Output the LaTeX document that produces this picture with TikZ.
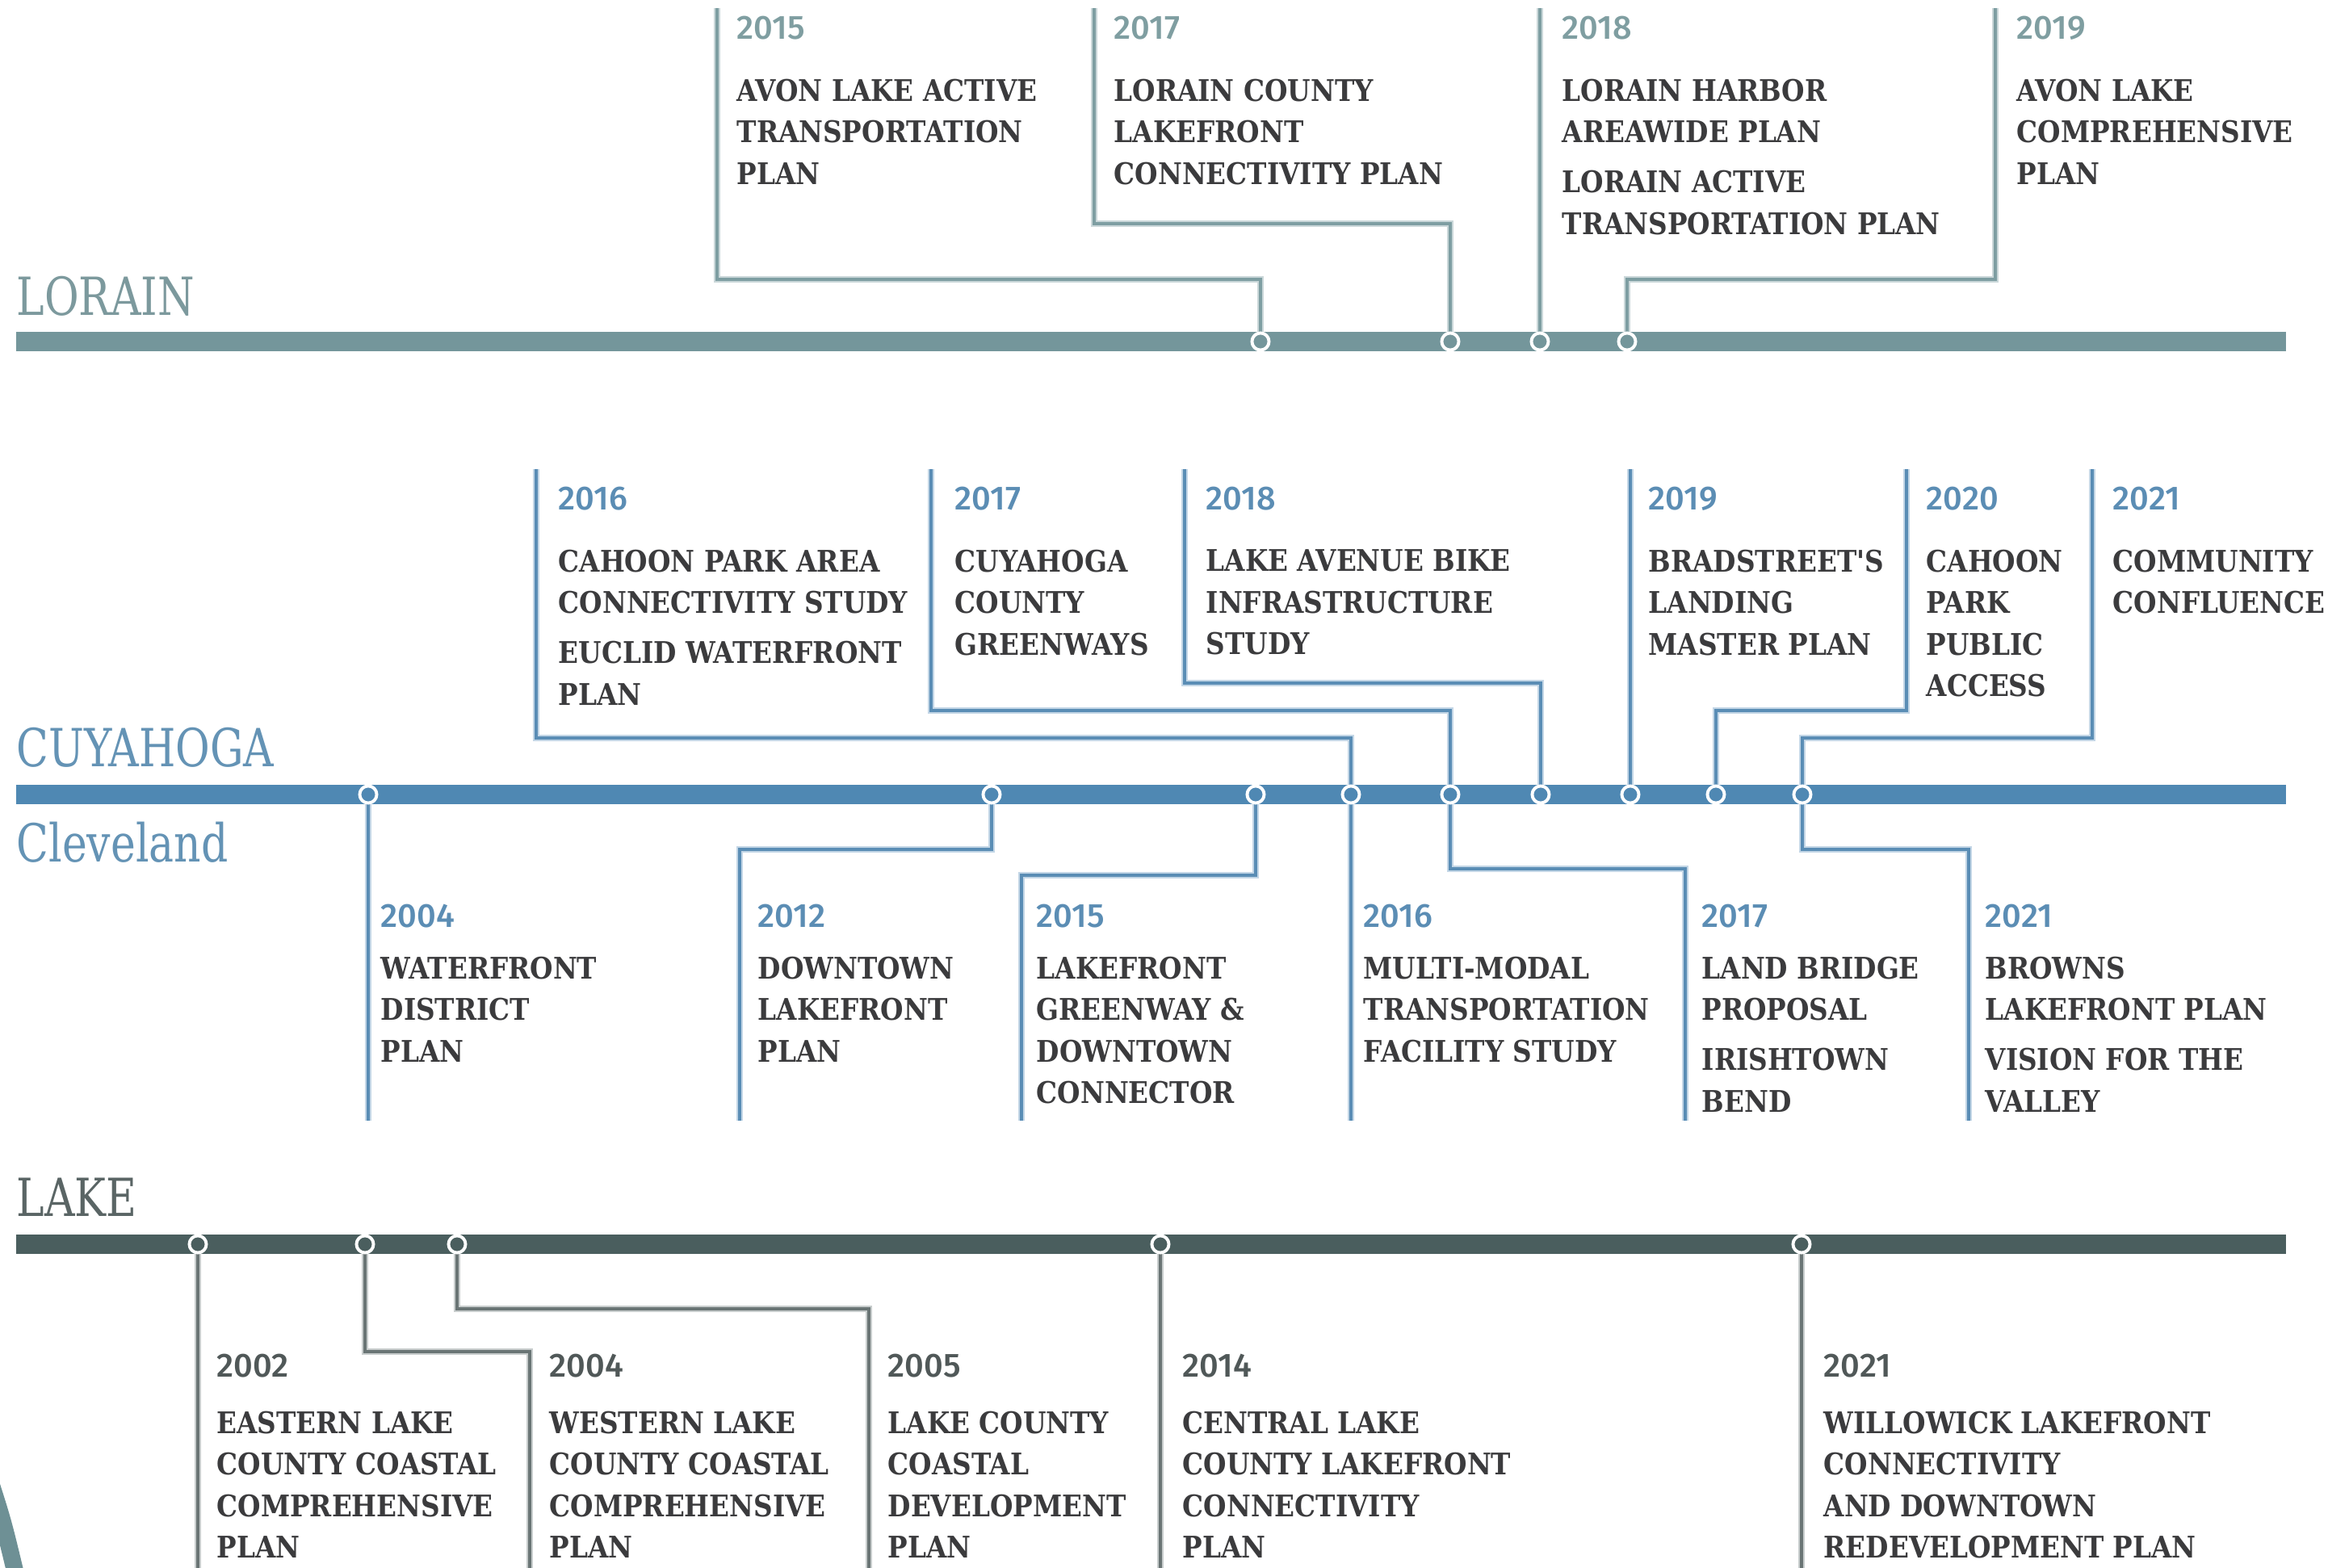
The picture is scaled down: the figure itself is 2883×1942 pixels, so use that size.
\documentclass[tikz,border=0pt]{standalone}
\usepackage{fontspec}
\newfontfamily\bodyfont{DejaVu Serif}[FakeStretch=0.885]
\newfontfamily\headfont{DejaVu Serif}[FakeStretch=0.8]
\newfontfamily\yearfont{Fira Sans}[UprightFont={* Medium}]
\definecolor{lorBar}{HTML}{74969B}
\definecolor{lorLine}{HTML}{7E9EA2}
\definecolor{lorHalo}{HTML}{CAD7D9}
\definecolor{lorYear}{HTML}{7F9EA1}
\definecolor{lorHead}{HTML}{7C999D}
\definecolor{cuyBar}{HTML}{4F88B3}
\definecolor{cuyLine}{HTML}{5A8DB5}
\definecolor{cuyHalo}{HTML}{C3D6E6}
\definecolor{cuyYear}{HTML}{5B8DB4}
\definecolor{cuyHead}{HTML}{6493B5}
\definecolor{lakBar}{HTML}{4A5E5E}
\definecolor{lakLine}{HTML}{6A7575}
\definecolor{lakHalo}{HTML}{C8CDCD}
\definecolor{lakYear}{HTML}{505858}
\definecolor{lakHead}{HTML}{5A6565}
\definecolor{bodyTxt}{HTML}{3B3B3D}
\definecolor{arcCol}{HTML}{6E9095}
\tikzset{
  bar/.style={line width=6.8pt},
  dot/.style={circle, draw=white, fill=#1, line width=1.1pt, minimum size=6pt, inner sep=0pt},
  conn/.style={line width=0.95pt, draw=#1Line, preaction={draw=#1Halo, line width=2.2pt}},
  body/.style={anchor=north west, inner sep=0pt, align=left, text=bodyTxt,
    font=\bodyfont\bfseries\fontsize{10.5}{14.65}\selectfont},
  year/.style={anchor=north west, inner sep=0pt, text=#1,
    font=\yearfont\fontsize{11.8}{13}\selectfont},
  head/.style={anchor=north west, inner sep=0pt, text=#1,
    font=\headfont\fontsize{18.5}{20}\selectfont},
}
\begin{document}
\begin{tikzpicture}[x=0.01cm, y=-0.01cm]
\useasboundingbox (0,0) rectangle (2883,1942);
\fill[white] (0,0) rectangle (2883,1942);

% decorative arc bottom-left
\draw[arcCol, line width=6pt] (-12,1835) .. controls (4,1885) .. (22,1960);

% ---------------- LORAIN ----------------
\node[head=lorHead] (lorain) at (20,342) {LORAIN};
\coordinate (Ln1) at (1561,423);
\coordinate (Ln2) at (1796,423);
\coordinate (Ln3) at (1907,423);
\coordinate (Ln4) at (2015,423);
\coordinate (l15e) at (888,10);  \coordinate (l15k) at (1561,346);
\coordinate (l17e) at (1355,10); \coordinate (l17k) at (1796,277);
\coordinate (l18e) at (1907,10);
\coordinate (l19e) at (2471,10); \coordinate (l19k) at (2015,346);
\draw[conn=lor] (l15e) |- (l15k) -- (Ln1);
\draw[conn=lor] (l17e) |- (l17k) -- (Ln2);
\draw[conn=lor] (l18e) -- (Ln3);
\draw[conn=lor] (l19e) |- (l19k) -- (Ln4);
\draw[bar, lorBar] (20,423) -- (2831,423);
\foreach \n in {Ln1,Ln2,Ln3,Ln4} \node[dot=lorBar] at (\n) {};

\node[year=lorYear] (ly15) at (912,19) {2015};
\node[body] (lt15) at (912,97) {AVON LAKE ACTIVE\\TRANSPORTATION\\PLAN};
\node[year=lorYear] (ly17) at (1379,19) {2017};
\node[body] (lt17) at (1379,97) {LORAIN COUNTY\\LAKEFRONT\\CONNECTIVITY PLAN};
\node[year=lorYear] (ly18) at (1934,19) {2018};
\node[body] (lt18) at (1934,97) {LORAIN HARBOR\\AREAWIDE PLAN\\[3pt]LORAIN ACTIVE\\TRANSPORTATION PLAN};
\node[year=lorYear] (ly19) at (2497,19) {2019};
\node[body] (lt19) at (2497,97) {AVON LAKE\\COMPREHENSIVE\\PLAN};

% ---------------- CUYAHOGA ----------------
\node[head=cuyHead] (cuy) at (20,901) {CUYAHOGA};
\node[head=cuyHead] (cle) at (20,1017) {Cleveland};
\coordinate (Cn1) at (456,984);
\coordinate (Cn2) at (1228,984);
\coordinate (Cn3) at (1555,984);
\coordinate (Cn4) at (1673,984);
\coordinate (Cn5) at (1796,984);
\coordinate (Cn6) at (1908,984);
\coordinate (Cn7) at (2019,984);
\coordinate (Cn8) at (2125,984);
\coordinate (Cn9) at (2232,984);
% upper
\coordinate (cu16e) at (664,581);  \coordinate (cu16k) at (1673,914);
\coordinate (cu17e) at (1153,581); \coordinate (cu17k) at (1796,880);
\coordinate (cu18e) at (1467,581); \coordinate (cu18k) at (1908,846);
\coordinate (cu19e) at (2019,581);
\coordinate (cu20e) at (2361,581); \coordinate (cu20k) at (2125,880);
\coordinate (cu21e) at (2591,581); \coordinate (cu21k) at (2232,914);
\draw[conn=cuy] (cu16e) |- (cu16k) -- (Cn4);
\draw[conn=cuy] (cu17e) |- (cu17k) -- (Cn5);
\draw[conn=cuy] (cu18e) |- (cu18k) -- (Cn6);
\draw[conn=cuy] (cu19e) -- (Cn7);
\draw[conn=cuy] (cu20e) |- (cu20k) -- (Cn8);
\draw[conn=cuy] (cu21e) |- (cu21k) -- (Cn9);
% lower
\coordinate (cl04e) at (456,1388);
\coordinate (cl12e) at (916,1388);  \coordinate (cl12k) at (1228,1052);
\coordinate (cl15e) at (1265,1388); \coordinate (cl15k) at (1555,1084);
\coordinate (cl16e) at (1673,1388);
\coordinate (cl17e) at (2087,1388); \coordinate (cl17k) at (1796,1076);
\coordinate (cl21e) at (2438,1388); \coordinate (cl21k) at (2232,1052);
\draw[conn=cuy] (cl04e) -- (Cn1);
\draw[conn=cuy] (cl12e) |- (cl12k) -- (Cn2);
\draw[conn=cuy] (cl15e) |- (cl15k) -- (Cn3);
\draw[conn=cuy] (cl16e) -- (Cn4);
\draw[conn=cuy] (cl17e) |- (cl17k) -- (Cn5);
\draw[conn=cuy] (cl21e) |- (cl21k) -- (Cn9);
\draw[bar, cuyBar] (20,984) -- (2831,984);
\foreach \n in {Cn1,Cn2,Cn3,Cn4,Cn5,Cn6,Cn7,Cn8,Cn9} \node[dot=cuyBar] at (\n) {};

\node[year=cuyYear] (cy16) at (691,602) {2016};
\node[body] (ct16) at (691,680) {CAHOON PARK AREA\\CONNECTIVITY STUDY\\[3pt]EUCLID WATERFRONT\\PLAN};
\node[year=cuyYear] (cy17) at (1182,602) {2017};
\node[body] (ct17) at (1182,680) {CUYAHOGA\\COUNTY\\GREENWAYS};
\node[year=cuyYear] (cy18) at (1493,602) {2018};
\node[body] (ct18) at (1493,680) {LAKE AVENUE BIKE\\INFRASTRUCTURE\\STUDY};
\node[year=cuyYear] (cy19) at (2041,602) {2019};
\node[body] (ct19) at (2041,680) {BRADSTREET'S\\LANDING\\MASTER PLAN};
\node[year=cuyYear] (cy20) at (2385,602) {2020};
\node[body] (ct20) at (2385,680) {CAHOON\\PARK\\PUBLIC\\ACCESS};
\node[year=cuyYear] (cy21) at (2616,602) {2021};
\node[body] (ct21) at (2616,680) {COMMUNITY\\CONFLUENCE};

\node[year=cuyYear] (dy04) at (471,1119) {2004};
\node[body] (dt04) at (471,1184) {WATERFRONT\\DISTRICT\\PLAN};
\node[year=cuyYear] (dy12) at (938,1119) {2012};
\node[body] (dt12) at (938,1184) {DOWNTOWN\\LAKEFRONT\\PLAN};
\node[year=cuyYear] (dy15) at (1283,1119) {2015};
\node[body] (dt15) at (1283,1184) {LAKEFRONT\\GREENWAY \&\\DOWNTOWN\\CONNECTOR};
\node[year=cuyYear] (dy16) at (1688,1119) {2016};
\node[body] (dt16) at (1688,1184) {MULTI-MODAL\\TRANSPORTATION\\FACILITY STUDY};
\node[year=cuyYear] (dy17) at (2107,1119) {2017};
\node[body] (dt17) at (2107,1184) {LAND BRIDGE\\PROPOSAL\\[3pt]IRISHTOWN\\BEND};
\node[year=cuyYear] (dy21) at (2458,1119) {2021};
\node[body] (dt21) at (2458,1184) {BROWNS\\LAKEFRONT PLAN\\[3pt]VISION FOR THE\\VALLEY};

% ---------------- LAKE ----------------
\node[head=lakHead] (lake) at (20,1458) {LAKE};
\coordinate (Kn1) at (245,1541);
\coordinate (Kn2) at (452,1541);
\coordinate (Kn3) at (566,1541);
\coordinate (Kn4) at (1437,1541);
\coordinate (Kn5) at (2231,1541);
\coordinate (k02e) at (245,1960);
\coordinate (k04e) at (656,1960);  \coordinate (k04k) at (452,1674);
\coordinate (k05e) at (1076,1960); \coordinate (k05k) at (566,1621);
\coordinate (k14e) at (1437,1960);
\coordinate (k21e) at (2231,1960);
\draw[conn=lak] (k02e) -- (Kn1);
\draw[conn=lak] (k04e) |- (k04k) -- (Kn2);
\draw[conn=lak] (k05e) |- (k05k) -- (Kn3);
\draw[conn=lak] (k14e) -- (Kn4);
\draw[conn=lak] (k21e) -- (Kn5);
\draw[bar, lakBar] (20,1541) -- (2831,1541);
\foreach \n in {Kn1,Kn2,Kn3,Kn4,Kn5} \node[dot=lakBar] at (\n) {};

\node[year=lakYear] (ky02) at (268,1676) {2002};
\node[body] (kt02) at (268,1747) {EASTERN LAKE\\COUNTY COASTAL\\COMPREHENSIVE\\PLAN};
\node[year=lakYear] (ky04) at (680,1676) {2004};
\node[body] (kt04) at (680,1747) {WESTERN LAKE\\COUNTY COASTAL\\COMPREHENSIVE\\PLAN};
\node[year=lakYear] (ky05) at (1099,1676) {2005};
\node[body] (kt05) at (1099,1747) {LAKE COUNTY\\COASTAL\\DEVELOPMENT\\PLAN};
\node[year=lakYear] (ky14) at (1464,1676) {2014};
\node[body] (kt14) at (1464,1747) {CENTRAL LAKE\\COUNTY LAKEFRONT\\CONNECTIVITY\\PLAN};
\node[year=lakYear] (ky21) at (2258,1676) {2021};
\node[body] (kt21) at (2258,1747) {WILLOWICK LAKEFRONT\\CONNECTIVITY\\AND DOWNTOWN\\REDEVELOPMENT PLAN};
\end{tikzpicture}
\end{document}
